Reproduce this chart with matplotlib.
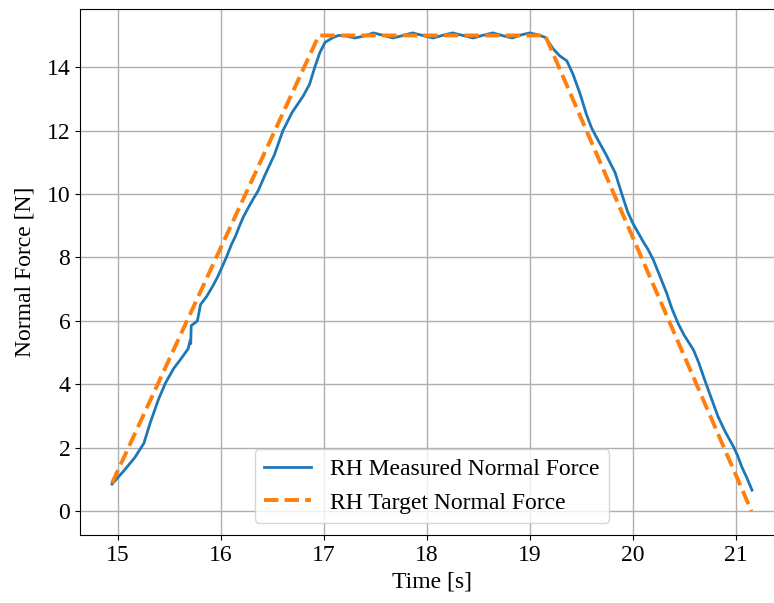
import numpy as np
import matplotlib
matplotlib.use("Agg")
from matplotlib import pyplot as plt

plt.rcParams['font.family'] = ['Liberation Serif', 'DejaVu Serif']
plt.rcParams['font.size'] = 17

# target normal force (corner points of the ramp profile)
target_t = [14.94, 16.95, 19.15, 21.155]
target_f = [0.88, 15.0, 15.0, 0.0]

# measured normal force
meas_t = [14.94, 15.05, 15.16, 15.25, 15.31, 15.39, 15.46, 15.54, 15.61, 15.68,
          15.69, 15.70, 15.705, 15.71, 15.74, 15.77, 15.80, 15.86, 15.92, 15.97,
          16.01, 16.05, 16.10, 16.14, 16.18, 16.22, 16.27, 16.31, 16.36, 16.43,
          16.52, 16.60, 16.69, 16.80, 16.86, 16.91, 16.96, 17.01, 17.08, 17.14,
          17.22, 17.30, 17.39, 17.48, 17.58, 17.67, 17.77, 17.86, 17.96, 18.06,
          18.15, 18.25, 18.35, 18.45, 18.54, 18.64, 18.73, 18.83, 18.92, 19.00,
          19.08, 19.15, 19.23, 19.29, 19.36, 19.42, 19.49, 19.55, 19.60, 19.65,
          19.74, 19.83, 19.89, 19.95, 20.00, 20.05, 20.10, 20.15, 20.20, 20.26,
          20.33, 20.38, 20.44, 20.50, 20.59, 20.64, 20.70, 20.76, 20.83, 20.90,
          20.98, 21.02, 21.06, 21.11, 21.16]
meas_f = [0.85, 1.25, 1.68, 2.14, 2.77, 3.51, 4.04, 4.50, 4.80, 5.12,
          5.25, 5.38, 5.28, 5.85, 5.92, 6.00, 6.51, 6.77, 7.10, 7.41,
          7.70, 7.99, 8.40, 8.67, 9.00, 9.30, 9.60, 9.83, 10.10, 10.62,
          11.25, 11.99, 12.57, 13.10, 13.46, 13.99, 14.46, 14.78, 14.92, 15.00,
          14.98, 14.92, 14.98, 15.08, 15.00, 14.92, 15.00, 15.08, 15.00, 14.92,
          15.00, 15.08, 15.00, 14.92, 15.00, 15.08, 15.00, 14.92, 15.02, 15.08,
          15.02, 14.94, 14.57, 14.36, 14.20, 13.78, 13.15, 12.52, 12.09, 11.78,
          11.25, 10.67, 10.05, 9.45, 9.09, 8.80, 8.51, 8.25, 7.93, 7.45,
          6.88, 6.40, 5.93, 5.55, 5.09, 4.70, 4.14, 3.60, 2.98, 2.50,
          2.03, 1.75, 1.40, 1.05, 0.66]

fig = plt.figure(figsize=(7.74, 6.03), dpi=100)
ax = fig.add_axes([80 / 774, 68 / 603, 704 / 774, 526 / 603])

ax.plot(meas_t, meas_f, color='#1f77b4', lw=2.0, label='RH Measured Normal Force')
ax.plot(target_t, target_f, color='#ff7f0e', lw=2.8, ls='--', label='RH Target Normal Force')

ax.set_xlabel('Time [s]')
ax.set_ylabel('Normal Force [N]', labelpad=8)
ax.grid(True, color='#b0b0b0', lw=1.0)
ax.legend(loc='lower center')

fig.savefig('out.png', dpi=100)
